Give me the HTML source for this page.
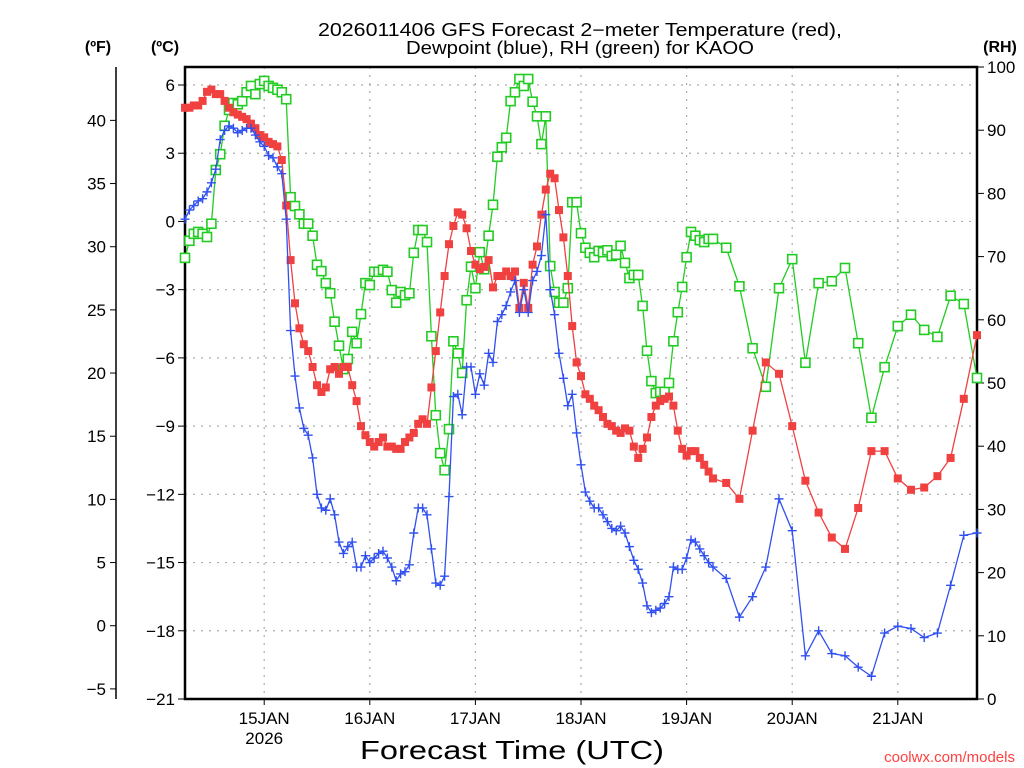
<!DOCTYPE html>
<html><head><meta charset="utf-8"><style>
body{margin:0;background:#fff;}
svg{display:block;font-family:"Liberation Sans",sans-serif;}
</style></head><body>
<svg id="chart" width="1024" height="768" viewBox="0 0 1024 768" xmlns="http://www.w3.org/2000/svg">
<rect width="1024" height="768" fill="#fff"/>
<text x="580" y="36" font-size="18" text-anchor="middle" textLength="524" lengthAdjust="spacingAndGlyphs">2026011406 GFS Forecast 2−meter Temperature (red),</text>
<text x="580" y="54" font-size="18" text-anchor="middle" textLength="348" lengthAdjust="spacingAndGlyphs">Dewpoint (blue), RH (green) for KAOO</text>
<text x="98" y="52" font-size="16" font-weight="bold" text-anchor="middle">(ºF)</text>
<text x="165" y="52" font-size="16" font-weight="bold" text-anchor="middle">(ºC)</text>
<text x="1000" y="52" font-size="16" font-weight="bold" text-anchor="middle">(RH)</text>
<text x="512" y="759" font-size="26" text-anchor="middle" textLength="304" lengthAdjust="spacingAndGlyphs">Forecast Time (UTC)</text>
<text x="1015" y="762" font-size="15" fill="#ff4040" text-anchor="end">coolwx.com/models</text>
<g id="grid"></g><g id="axes"></g><g id="series"></g>
</svg>
<script>
const hoursHourly = 120;
const hours3 = [123,126,129,132,135,138,141,144,147,150,153,156,159,162,165,168,171,174,177,180];
const dayLabels = ["15JAN","16JAN","17JAN","18JAN","19JAN","20JAN","21JAN"];
const celsiusTicks = [6,3,0,-3,-6,-9,-12,-15,-18,-21];
const fahrenheitTicks = [40,35,30,25,20,15,10,5,0,-5];
const rhTicks = [100,90,80,70,60,50,40,30,20,10,0];
const temperature = [5.0,5.0,5.1,5.1,5.3,5.7,5.8,5.6,5.6,5.3,
5.0,4.8,4.7,4.6,4.5,4.3,4.1,3.8,3.7,3.5,
3.4,3.3,2.7,0.7,-1.7,-3.6,-4.7,-5.4,-5.7,-6.4,
-7.2,-7.5,-7.3,-6.5,-6.4,-6.7,-6.4,-6.4,-7.2,-7.9,
-9.0,-9.4,-9.7,-9.9,-9.7,-9.5,-9.9,-9.9,-10.0,-10.0,
-9.7,-9.5,-9.3,-8.9,-8.7,-8.9,-7.3,-5.7,-4.0,-2.4,
-1.0,-0.2,0.4,0.3,-0.3,-1.3,-1.9,-2.1,-2.0,-1.7,
-2.9,-2.4,-2.4,-2.2,-2.4,-2.2,-3.8,-2.7,-3.8,-1.9,
-1.1,0.3,1.4,2.1,1.9,0.5,-0.7,-2.4,-4.6,-6.2,
-6.8,-7.6,-7.8,-8.1,-8.3,-8.6,-8.9,-9.0,-9.2,-9.3,
-9.1,-9.2,-9.9,-10.4,-10.0,-9.5,-8.6,-8.1,-7.9,-7.8,
-7.7,-8.1,-9.2,-10.0,-10.3,-10.1,-10.1,-10.4,-10.7,-11.0,
-11.3,
-11.5,-12.2,-9.2,-6.2,-6.7,-9.0,-11.4,-12.8,-13.9,-14.4,-12.6,-10.1,-10.1,-11.3,-11.8,-11.7,-11.2,-10.4,-7.8,-5.0];
const dewpoint = [0.1,0.5,0.7,0.9,1.0,1.3,1.7,2.3,3.6,4.0,
4.2,4.1,3.9,4.0,4.1,4.1,3.8,3.5,3.3,2.9,
2.8,2.4,2.1,0.1,-4.8,-6.8,-8.2,-9.1,-9.4,-10.4,
-12.0,-12.6,-12.7,-12.2,-12.9,-14.1,-14.6,-14.3,-14.1,-15.2,
-15.2,-14.7,-15.0,-14.8,-14.6,-14.5,-14.8,-15.2,-15.8,-15.5,
-15.4,-15.1,-13.7,-12.6,-12.6,-12.9,-14.4,-15.9,-16.0,-15.6,
-12.1,-7.7,-7.6,-8.5,-6.4,-6.4,-7.6,-6.7,-7.2,-5.8,
-6.2,-4.4,-4.1,-3.7,-3.1,-2.6,-4.0,-3.0,-4.0,-2.6,
-2.2,-1.5,0.3,-3.0,-4.1,-5.8,-6.9,-8.1,-7.6,-9.3,
-10.7,-11.9,-12.3,-12.6,-12.6,-12.9,-13.2,-13.5,-13.6,-13.4,
-13.7,-14.3,-14.9,-15.3,-15.9,-16.9,-17.2,-17.1,-17.0,-16.8,
-16.5,-15.2,-15.3,-15.3,-14.8,-14.0,-14.1,-14.4,-14.7,-15.0,
-15.2,
-15.7,-17.4,-16.5,-15.2,-12.2,-13.6,-19.1,-18.0,-19.0,-19.1,-19.6,-20.0,-18.1,-17.8,-17.9,-18.3,-18.1,-16.0,-13.8,-13.7];
const humidity = [69.8,72.5,73.6,73.9,73.6,73.1,75.2,83.7,86.2,90.7,
93.2,94.3,94.1,94.6,96.0,97.0,95.7,97.3,97.8,97.0,
96.7,96.4,96.0,94.9,79.4,78.0,76.7,75.2,75.2,73.3,
68.7,67.7,65.8,64.2,59.7,55.9,52.2,53.8,58.1,56.3,
60.9,65.8,65.5,67.6,67.6,67.9,67.6,64.7,62.7,64.4,
63.9,64.2,70.6,74.2,74.2,72.3,57.4,44.9,38.9,36.2,
42.7,56.6,54.7,51.6,63.1,68.4,65.0,70.7,68.0,73.3,
78.2,85.8,87.3,88.8,94.6,96.0,98.1,97.0,98.1,94.5,
92.2,87.8,92.2,68.5,64.4,62.7,62.7,65.0,78.6,78.6,
73.7,71.4,70.6,69.9,70.9,70.7,71.0,70.1,70.3,71.7,
69.0,66.6,67.1,67.1,62.2,55.1,50.3,48.4,48.6,48.6,
50.0,56.6,61.2,65.2,69.9,73.9,73.3,72.6,72.3,72.8,
72.8,
71.4,65.3,55.5,49.4,65.0,69.6,53.2,65.8,66.1,68.2,56.3,44.5,52.5,59.0,60.8,58.4,57.3,63.8,62.5,50.8];

const L=185,R=977,T=67,B=699;
const HMAX=180;
const xS=h=>L+(h/HMAX)*(R-L);
const cS=c=>B-(c+21)*(614/27);
const fS=f=>cS((f-32)/1.8);
const rS=r=>B-r/100*(B-T);
const hrs=[];for(let i=0;i<=hoursHourly;i++)hrs.push(i);hours3.forEach(h=>hrs.push(h));
const NS="http://www.w3.org/2000/svg";
function mk(tag,attrs,parent){const e=document.createElementNS(NS,tag);for(const k in attrs)e.setAttribute(k,attrs[k]);parent.appendChild(e);return e;}
const grid=document.getElementById('grid'),axes=document.getElementById('axes'),ser=document.getElementById('series');
celsiusTicks.forEach(c=>{const y=cS(c);
 if(c>-21){const g=mk('line',{x1:L,x2:R,y1:y,y2:y,stroke:'#aaa','stroke-width':1.2,'stroke-dasharray':'2,6'},grid);
 
 }
 const t=mk('line',{x1:L-7,x2:L,y1:y,y2:y,stroke:'#000','stroke-width':1},axes);
 
 
 const tx=mk('text',{x:L-10,y:y+6,'font-size':17,'text-anchor':'end'},axes);tx.textContent=String(c).replace('-','−');
 
 
});
fahrenheitTicks.forEach(f=>{const y=fS(f);
 const t=mk('line',{x1:110,x2:116,y1:y,y2:y,stroke:'#000','stroke-width':1},axes);
 
 
 const tx=mk('text',{x:106,y:y+6,'font-size':17,'text-anchor':'end'},axes);tx.textContent=String(f).replace('-','−');
 
 
});
rhTicks.forEach(r=>{const y=rS(r);
 const t=mk('line',{x1:R,x2:R+7,y1:y,y2:y,stroke:'#000','stroke-width':1},axes);
 
 
 const tx=mk('text',{x:R+10,y:y+6,'font-size':17,'text-anchor':'start'},axes);tx.textContent=r;
 
 
});
dayLabels.forEach((d,i)=>{const x=xS(18+24*i);
 const g=mk('line',{x1:x,x2:x,y1:T,y2:B,stroke:'#aaa','stroke-width':1.2,'stroke-dasharray':'2,6'},grid);
 
 
 const t=mk('line',{x1:x,x2:x,y1:B,y2:B+6,stroke:'#000','stroke-width':1},axes);
 
 
 const tx=mk('text',{x:x,y:724,'font-size':17,'text-anchor':'middle'},axes);tx.textContent=d;
 
 
});
const yr=mk('text',{x:xS(18),y:744,'font-size':17,'text-anchor':'middle'},axes);yr.textContent='2026';


const fax=mk('line',{x1:116,x2:116,y1:T,y2:B,stroke:'#000','stroke-width':1.5},axes);


const frame=mk('rect',{x:L,y:T,width:R-L,height:B-T,fill:'none',stroke:'#000','stroke-width':2.5},axes);



function series(vals,scale,color,kind,name){
 const pts=vals.map((v,i)=>[xS(hrs[i]),scale(v)]);
 const g=mk('g',{},ser);
 
 
 const pl=mk('polyline',{points:pts.map(p=>p.join(',')).join(' '),fill:'none',stroke:color,'stroke-width':1.3},g);
 
 
 pts.forEach(([x,y])=>{let m;
  if(kind==='fill'){m=mk('rect',{x:x-4,y:y-4,width:8,height:8,fill:color},g);}
  else if(kind==='open'){m=mk('rect',{x:x-4.5,y:y-4.5,width:9,height:9,fill:'#fff',stroke:color,'stroke-width':1.6},g);}
  else {m=mk('path',{d:`M${x-4.5},${y}H${x+4.5}M${x},${y-4.5}V${y+4.5}`,stroke:color,'stroke-width':1.4,fill:'none'},g);}
  
  
 });
}
series(humidity,rS,'#22cc22','open','rh');
series(temperature,cS,'#f04040','fill','temperature');
series(dewpoint,cS,'#3050f0','plus','dewpoint');
</script>
</body></html>
